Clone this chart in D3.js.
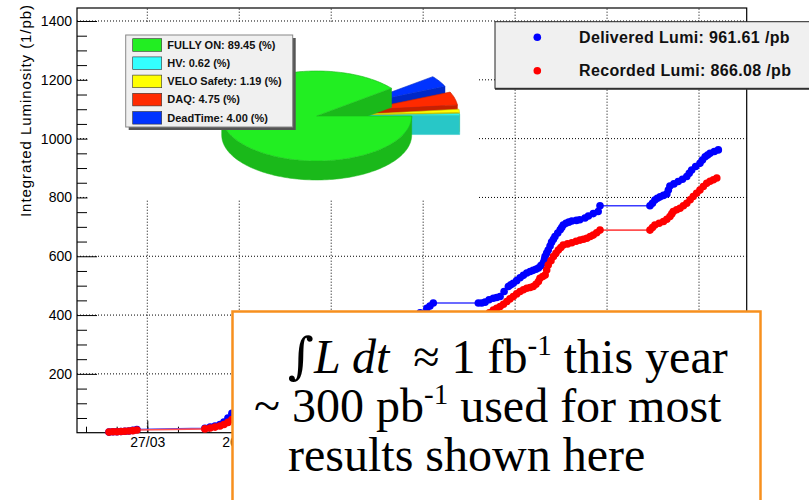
<!DOCTYPE html>
<html>
<head>
<meta charset="utf-8">
<script src="https://cdn.jsdelivr.net/npm/d3@7"></script>
<style>
  body { margin: 0; background: #fff; }
  svg { display: block; }
</style>
</head>
<body>
<svg id="chart" width="809" height="500" font-family="Liberation Sans, Arial, sans-serif"></svg>
<script>
// [day of year 2011 (0 = 1 Jan), integrated lumi in 1/pb]
const delivered = [
  [72.5,2],[73.8,3],[75.1,3],[76.4,4],[77.7,5],[79.0,6],[80.3,8],[81.6,11],
  [103.8,15],[105.5,19],[107.1,23],[108.7,28],[110.0,36],[111.3,50],[112.6,66],
  [115.2,80],[118.5,100],[121.8,118],[125.0,138],[128.3,160],[131.6,182],[134.8,202],[138.1,222],
  [141.3,245],[144.6,266],[147.9,286],[151.1,302],[154.4,318],[157.7,333],[160.9,348],[164.2,362],
  [167.4,376],[170.7,392],[174.0,408],[176.2,423],[177.2,431],[178.3,441],
  [193.0,441],[194.1,441],[195.2,444],[196.5,452],[197.9,457],[199.0,460],[200.1,463],[201.4,480],
  [202.8,497],[203.6,503],[204.4,508],[205.5,517],[206.6,527],[207.7,535],[208.8,543],[209.9,548],
  [210.9,552],[211.8,556],[212.6,560],[213.4,568],[214.2,578],[214.6,590],[214.8,600],[215.3,611],
  [215.8,621],[216.4,635],[216.9,648],[217.5,658],[218.0,667],[218.9,679],[219.7,690],[220.2,698],
  [220.7,706],[221.6,712],[222.5,716],[223.5,720],[225.0,722],[226.1,724],[227.8,730],[228.9,737],
  [230.5,745],[232.1,752],[232.7,772],
  [249.0,772],[249.8,780],[250.6,791],[251.4,797],[252.3,802],[253.4,807],[254.5,812],[255.0,825],
  [255.5,839],[256.8,846],[258.2,854],[259.6,862],[261.0,871],[261.8,882],[262.6,893],[263.9,905],
  [265.3,916],[266.1,927],[267.0,938],[267.8,944],[268.6,950],[270.0,956],[271.3,961.6]
];
const recorded = [
  [72.5,2],[73.8,3],[75.1,3],[76.4,4],[77.7,5],[79.0,6],[80.3,7],[81.6,9],
  [103.8,13],[105.5,16],[107.1,19],[108.7,23],[110.0,28],[111.3,35],[112.6,45],
  [115.2,57],[118.5,75],[121.8,92],[125.0,110],[128.3,128],[131.6,147],[134.8,165],[138.1,183],
  [141.3,203],[144.6,222],[147.9,240],[151.1,255],[154.4,270],[157.7,284],[160.9,298],[164.2,312],
  [167.4,325],[170.7,340],[174.0,355],[176.2,368],[177.2,375],[178.3,385],
  [193.0,386],[195.2,398],[196.6,408],[197.9,417],[199.0,423],[200.1,429],[201.2,437],[202.3,446],
  [203.3,455],[204.4,463],[205.5,472],[206.6,480],[207.7,486],[208.8,491],[209.9,494],[210.9,497],
  [211.8,505],[212.6,514],[213.1,525],[214.0,531],[214.8,536],[215.3,553],[215.8,570],[216.7,585],
  [217.5,599],[218.3,610],[219.1,621],[219.9,630],[220.7,638],[222.1,642],[223.5,646],[224.9,651],
  [226.2,655],[227.3,658],[228.4,661],[229.5,667],[230.5,672],[231.6,680],[232.7,689],
  [249.0,689],[249.8,698],[250.6,706],[252.0,712],[253.4,718],[254.5,726],[255.5,735],[256.1,744],
  [256.6,752],[257.7,758],[258.8,763],[259.9,772],[261.0,780],[262.1,792],[263.1,803],[264.2,814],
  [265.3,825],[266.4,837],[267.5,848],[268.6,855],[269.7,860],[270.8,866.08]
];
const xTickDates = ["2011-03-27","2011-04-26","2011-05-26","2011-06-25","2011-07-25","2011-08-24","2011-09-23"];
const xTickLabels = ["27/03", "26/04"]; // the others sit under the note box
const yTicks = [200, 400, 600, 800, 1000, 1200, 1400];
const legendLabels = ["Delivered Lumi: 961.61 /pb", "Recorded Lumi: 866.08 /pb"];
const seriesColors = ["#0000ff", "#ff0000"];

const pieLabels = ["FULLY ON", "HV", "VELO Safety", "DAQ", "DeadTime"];
const pieValues = [89.45, 0.62, 1.19, 4.75, 4.00];
const pieColors = ["#22ee22", "#33ffff", "#ffff00", "#ff2a00", "#0033ff"];

const svg = d3.select("#chart");
const margin = { left: 77, top: 8, right: 746.7, bottom: 432.7 };
const day = d => new Date(Date.UTC(2011, 0, 1) + d * 864e5);

const x = d3.scaleUtc()
  .domain([day(62.06), day(280.56)])
  .range([margin.left, margin.right]);
const y = d3.scaleLinear()
  .domain([0, 1444.2])
  .range([margin.bottom, margin.top]);

// grid
const grid = svg.append("g").attr("stroke", "#000").attr("stroke-dasharray", "1,2");
grid.selectAll(".gx").data(xTickDates).join("line")
  .attr("x1", d => x(new Date(d))).attr("x2", d => x(new Date(d)))
  .attr("y1", margin.bottom).attr("y2", margin.top);
grid.selectAll(".gy").data(yTicks).join("line")
  .attr("x1", margin.left).attr("x2", margin.right)
  .attr("y1", d => y(d)).attr("y2", d => y(d));

// axes, ticks pointing inside like ROOT
const minorY = d3.range(50, 1444, 50).filter(v => v % 200 != 0);
svg.append("g").attr("transform", `translate(${margin.left},0)`)
  .call(d3.axisLeft(y).tickValues(minorY).tickSize(-10).tickFormat(""))
  .call(g => g.select(".domain").remove());
svg.append("g").attr("transform", `translate(${margin.left},0)`)
  .call(d3.axisLeft(y).tickValues(yTicks).tickSize(-20).tickPadding(5).tickFormat(d3.format("d")))
  .call(g => g.select(".domain").remove())
  .call(g => g.selectAll("text").attr("font-size", 14).attr("font-family", "Liberation Sans"));

const minorX = d3.range(-20, 196, 10).map(k => day(85 + k));
svg.append("g").attr("transform", `translate(0,${margin.bottom})`)
  .call(d3.axisBottom(x).tickValues(minorX).tickSize(-6).tickFormat(""))
  .call(g => g.select(".domain").remove());
svg.append("g").attr("transform", `translate(0,${margin.bottom})`)
  .call(d3.axisBottom(x).tickValues(xTickDates.map(d => new Date(d))).tickSize(-12).tickPadding(4)
    .tickFormat((d, i) => xTickLabels[i] || ""))
  .call(g => g.select(".domain").remove())
  .call(g => g.selectAll("text").attr("font-size", 14).attr("font-family", "Liberation Sans"));

svg.append("rect")
  .attr("x", margin.left).attr("y", margin.top)
  .attr("width", margin.right - margin.left).attr("height", margin.bottom - margin.top)
  .attr("fill", "none").attr("stroke", "#000").attr("stroke-width", 1.2);

svg.append("text")
  .attr("transform", "translate(30.5,111) rotate(-90)")
  .attr("text-anchor", "middle")
  .attr("font-size", 15)
  .attr("textLength", 212)
  .text("Integrated Luminosity (1/pb)");

// data
[delivered, recorded].forEach((data, i) => {
  const line = d3.line().x(d => x(day(d[0]))).y(d => y(d[1]));
  svg.append("path").datum(data)
    .attr("fill", "none")
    .attr("stroke", i == 0 ? "#3b3bff" : "#ff5050")
    .attr("stroke-width", 1.6)
    .attr("d", line);
  svg.append("g").selectAll("circle").data(data).join("circle")
    .attr("cx", d => x(day(d[0])))
    .attr("cy", d => y(d[1]))
    .attr("r", 3.8)
    .attr("fill", seriesColors[i]);
});

// pie pad covers the upper left of the plot
svg.append("rect").attr("x", 87.5).attr("y", 22).attr("width", 389.5).attr("height", 178).attr("fill", "#fff");

// 3D exploded pie
const pie = { cx: 316.7, cy: 116, rx: 95, ry: 45, depth: 19, explode: 48, start: 38 * Math.PI / 180 };
const arcs = d3.pie().sort(null)(pieValues).map((a, i) => {
  const t1 = pie.start + a.startAngle, t2 = pie.start + a.endAngle, mid = (t1 + t2) / 2;
  const off = i == 0 ? 0 : pie.explode;
  return { i, t1, t2, mid, c: [pie.cx + off * Math.cos(mid), pie.cy - off * pie.ry / pie.rx * Math.sin(mid)] };
});
const pt = (c, t, dz = 0) => [c[0] + pie.rx * Math.cos(t), c[1] - pie.ry * Math.sin(t) + dz];
const steps = (t1, t2) => {
  const n = Math.max(2, Math.ceil(Math.abs(t2 - t1) / (Math.PI / 120)));
  return d3.range(n + 1).map(k => t1 + (t2 - t1) * k / n);
};
const poly = d3.line().curve(d3.curveLinearClosed);
const gPie = svg.append("g");
const order = arcs.slice(1).sort((a, b) => Math.sin(b.mid) - Math.sin(a.mid)).concat([arcs[0]]);
order.forEach(a => {
  const col = pieColors[a.i], dark = d3.color(col).darker(0.7).formatHex();
  const c = a.c, cz = [c[0], c[1] + pie.depth];
  // front part of the outer wall
  const ts = steps(a.t1, a.t2).filter(t => Math.sin(t) < 0);
  if (ts.length > 1) {
    const top = ts.map(t => pt(c, t)), bot = ts.map(t => pt(c, t, pie.depth)).reverse();
    gPie.append("path").attr("d", poly(top.concat(bot))).attr("fill", dark).attr("stroke", dark).attr("stroke-width", 0.5);
  }
  // cut faces turned towards the viewer
  if (Math.cos(a.t1) > 0) {
    gPie.append("path").attr("d", poly([c, pt(c, a.t1), pt(c, a.t1, pie.depth), cz]))
      .attr("fill", dark).attr("stroke", dark).attr("stroke-width", 0.5);
  }
  if (Math.cos(a.t2) < 0) {
    gPie.append("path").attr("d", poly([c, pt(c, a.t2), pt(c, a.t2, pie.depth), cz]))
      .attr("fill", dark).attr("stroke", dark).attr("stroke-width", 0.5);
  }
  gPie.append("path").attr("d", poly([c].concat(steps(a.t1, a.t2).map(t => pt(c, t)))))
    .attr("fill", col).attr("stroke", dark).attr("stroke-width", 0.6);
});

// pie legend
const pl = svg.append("g").attr("transform", "translate(125.7,35)");
pl.append("rect").attr("x", 3).attr("y", 3).attr("width", 167).attr("height", 92).attr("fill", "#555");
pl.append("rect").attr("width", 167).attr("height", 92).attr("fill", "#f0f0f0").attr("stroke", "#888");
pieLabels.forEach((lab, i) => {
  const cy = 10 + i * 18.2;
  pl.append("rect").attr("x", 7).attr("y", cy - 6.3).attr("width", 29).attr("height", 12.6)
    .attr("fill", pieColors[i]).attr("stroke", "#333").attr("stroke-width", 0.6);
  pl.append("text").attr("x", 41.6).attr("y", cy).attr("dy", "0.35em")
    .attr("font-size", 11).attr("font-weight", "bold").attr("fill", "#111")
    .text(`${lab}: ${pieValues[i].toFixed(2)} (%)`);
});

// series legend
const lg = svg.append("g").attr("transform", "translate(495,21.7)");
lg.append("rect").attr("x", 0).attr("y", 1.5).attr("width", 330).attr("height", 66.6).attr("fill", "#333");
lg.append("rect").attr("width", 330).attr("height", 66.6).attr("fill", "#f0f0f0").attr("stroke", "#222");
legendLabels.forEach((lab, i) => {
  const cy = 15.6 + i * 33.4;
  lg.append("circle").attr("cx", 42.3).attr("cy", cy).attr("r", 3.8).attr("fill", seriesColors[i]);
  lg.append("text").attr("x", 84).attr("y", cy).attr("dy", "0.36em")
    .attr("font-size", 16).attr("font-weight", "bold").attr("letter-spacing", 0.35).attr("fill", "#111")
    .text(lab);
});

// annotation box
const box = svg.append("g");
box.append("rect").attr("x", 232.5).attr("y", 311.5).attr("width", 528).attr("height", 200)
  .attr("fill", "#fff").attr("stroke", "#f7901e").attr("stroke-width", 2.5);
const serif = "Liberation Serif, Times New Roman, serif";
const t1 = box.append("text").attr("x", 288).attr("y", 373).attr("font-size", 48).attr("font-family", serif).attr("xml:space", "preserve");
t1.append("tspan").attr("font-family", "DejaVu Serif, serif").attr("font-style", "italic").attr("font-size", 50).text("\u222B");
t1.append("tspan").attr("font-style", "italic").text("L dt");
t1.append("tspan").text("  \u2248 1 fb");
t1.append("tspan").attr("font-size", 29).attr("dy", -18).text("-1");
t1.append("tspan").attr("dy", 18).text(" this year");
const t2 = box.append("text").attr("x", 254).attr("y", 422).attr("font-size", 48).attr("font-family", serif).attr("xml:space", "preserve");
t2.append("tspan").text("~ 300 pb");
t2.append("tspan").attr("font-size", 29).attr("dy", -18).text("-1");
t2.append("tspan").attr("dy", 18).text(" used for most");
box.append("text").attr("x", 288).attr("y", 471).attr("font-size", 48).attr("font-family", serif)
  .text("results shown here");
</script>
</body>
</html>
